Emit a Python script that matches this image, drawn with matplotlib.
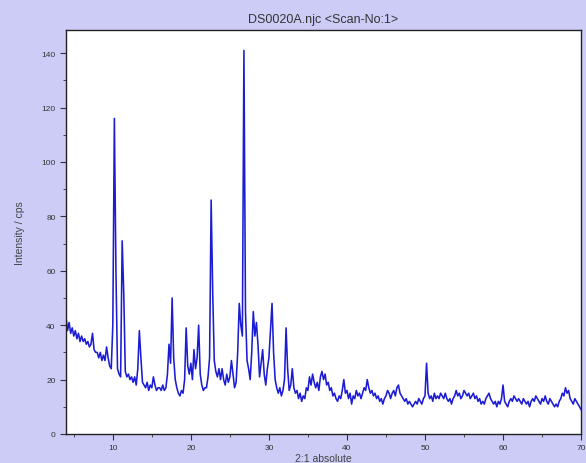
import numpy as np
import matplotlib
matplotlib.use("Agg")
import matplotlib.pyplot as plt
from matplotlib.ticker import MultipleLocator

# scan grid: 4.0 .. 70.0 deg, 0.2 deg step
start_angle = 4.0
end_angle = 70.0
step = 0.2

# intensities, one row per 2 degrees
counts = [
    43, 38, 41, 37, 39, 36, 38, 35, 37, 34,     # 4
    36, 34, 35, 33, 34, 32, 33, 37, 31, 30,     # 6
    30, 28, 30, 27, 29, 27, 32, 28, 25, 24,     # 8
    40, 116, 60, 24, 22, 21, 71, 52, 23, 21,    # 10
    22, 20, 21, 19, 21, 18, 24, 38, 28, 19,     # 12
    18, 17, 19, 16, 18, 17, 21, 18, 16, 17,     # 14
    17, 16, 18, 16, 17, 22, 33, 26, 50, 28,     # 16
    20, 17, 15, 14, 16, 15, 20, 39, 25, 22,     # 18
    26, 20, 31, 24, 28, 40, 22, 18, 16, 17,     # 20
    17, 21, 28, 86, 52, 27, 23, 21, 24, 20,     # 22
    24, 20, 18, 22, 19, 21, 27, 22, 17, 19,     # 24
    30, 48, 40, 36, 141, 45, 27, 24, 20, 30,    # 26
    45, 36, 41, 33, 21, 26, 31, 22, 18, 24,     # 28
    28, 38, 48, 30, 20, 17, 15, 17, 14, 16,     # 30
    20, 39, 24, 16, 18, 24, 17, 15, 16, 13,     # 32
    15, 12, 14, 13, 17, 16, 21, 18, 22, 19,     # 34
    17, 19, 16, 21, 23, 20, 22, 18, 19, 16,     # 36
    17, 14, 15, 13, 12, 14, 13, 16, 20, 15,     # 38
    16, 13, 15, 11, 14, 13, 16, 14, 15, 13,     # 40
    15, 17, 16, 20, 17, 15, 16, 14, 15, 13,     # 42
    14, 12, 13, 11, 13, 14, 16, 15, 13, 15,     # 44
    16, 14, 17, 18, 15, 14, 13, 12, 13, 11,     # 46
    12, 11, 10, 11, 12, 11, 13, 12, 11, 13,     # 48
    14, 26, 15, 13, 14, 12, 15, 13, 14, 13,     # 50
    15, 14, 13, 15, 13, 12, 13, 11, 13, 14,     # 52
    16, 14, 15, 13, 14, 16, 15, 14, 15, 13,     # 54
    14, 15, 13, 14, 12, 13, 11, 12, 11, 13,     # 56
    14, 15, 13, 12, 11, 12, 10, 12, 11, 13,     # 58
    18, 12, 11, 10, 12, 13, 12, 14, 13, 12,     # 60
    13, 12, 11, 13, 12, 11, 12, 10, 12, 13,     # 62
    12, 14, 13, 12, 11, 13, 12, 14, 12, 11,     # 64
    13, 12, 11, 10, 11, 10, 12, 13, 15, 14,     # 66
    17, 15, 16, 13, 12, 11, 13, 12, 11, 10,     # 68
    9,                                          # 70
]

two_theta = np.round(np.arange(start_angle, end_angle + step / 2, step), 1)

plt.rcParams["font.family"] = ["Liberation Sans", "DejaVu Sans"]

fig = plt.figure(figsize=(5.86, 4.64), dpi=100, facecolor="#ccccf7")
ax = fig.add_axes([0.1126, 0.0625, 0.879, 0.8707])
ax.set_facecolor("white")

ax.plot(two_theta, counts, color="#1c1cd4", linewidth=1.15)

ax.set_xlim(start_angle, end_angle)
ax.set_ylim(0, 148.5)
ax.xaxis.set_major_locator(MultipleLocator(10))
ax.xaxis.set_minor_locator(MultipleLocator(5))
ax.yaxis.set_major_locator(MultipleLocator(20))
ax.yaxis.set_minor_locator(MultipleLocator(10))
ax.tick_params(which="major", direction="out", length=4, width=0.8,
               labelsize=6, labelcolor="#333333", color="#333333")
ax.tick_params(which="minor", direction="out", length=2, width=0.6,
               color="#333333")

for s in ax.spines.values():
    s.set_color("#222222")
    s.set_linewidth(1.0)

ax.set_title("DS0020A.njc <Scan-No:1>", fontsize=9, color="#333333", pad=6)
ax.set_xlabel("2:1 absolute", fontsize=7.5, color="#444444", labelpad=1)
ax.set_ylabel("Intensity / cps", fontsize=7.5, color="#444444", labelpad=12)

fig.savefig("out.png", dpi=100, facecolor=fig.get_facecolor())
